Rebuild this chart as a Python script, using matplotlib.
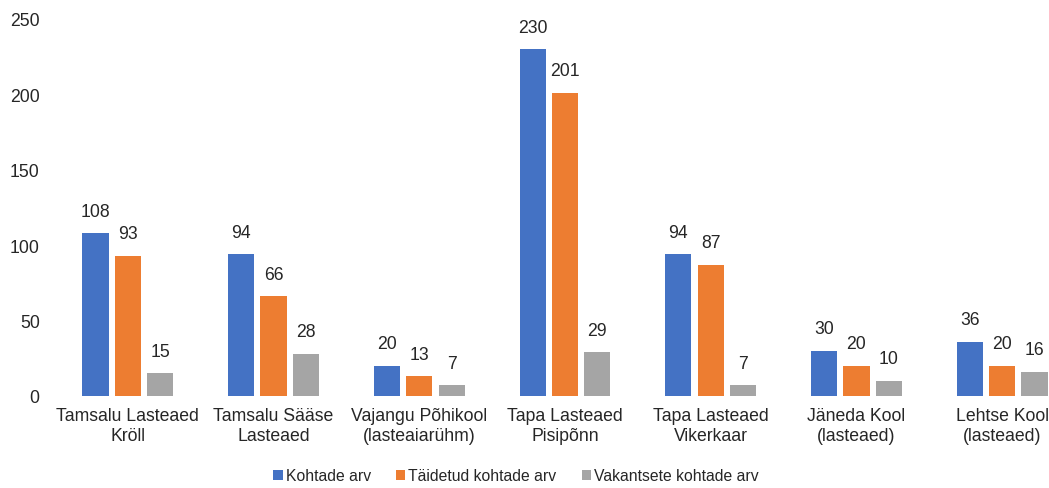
import numpy as np
import matplotlib.pyplot as plt

plt.rcParams['font.family'] = ['Liberation Sans', 'DejaVu Sans']

categories = ['Tamsalu Lasteaed\nKröll', 'Tamsalu Sääse\nLasteaed', 'Vajangu Põhikool\n(lasteaiarühm)',
              'Tapa Lasteaed\nPisipõnn', 'Tapa Lasteaed\nVikerkaar', 'Jäneda Kool\n(lasteaed)',
              'Lehtse Kool\n(lasteaed)']
kohtade = [108, 94, 20, 230, 94, 30, 36]
taidetud = [93, 66, 13, 201, 87, 20, 20]
vakantsed = [15, 28, 7, 29, 7, 10, 16]

series = [('Kohtade arv', kohtade, '#4472C4'),
          ('Täidetud kohtade arv', taidetud, '#ED7D31'),
          ('Vakantsete kohtade arv', vakantsed, '#A5A5A5')]

fig = plt.figure(figsize=(10.49, 4.89), dpi=100)
ax = fig.add_axes([55 / 1049, 92 / 489, 1020 / 1049, 377 / 489])

x = np.arange(len(categories))
width = 0.18
offsets = [-0.222, 0, 0.222]

for (name, vals, color), off in zip(series, offsets):
    bars = ax.bar(x + off, vals, width, color=color, label=name)
    for b, v in zip(bars, vals):
        ax.text(b.get_x() + b.get_width() / 2, v + 9, str(v),
                ha='center', va='bottom', fontsize=12.7, color='#262626')

ax.set_xlim(-0.5, len(categories) - 0.5)
ax.set_ylim(0, 250)
ax.set_yticks(range(0, 251, 50))
ax.set_xticks(x)
ax.set_xticklabels(categories, fontsize=12.7, color='#262626', linespacing=1.2)
ax.tick_params(axis='y', labelsize=12.7, labelcolor='#262626', length=0, pad=11)
ax.tick_params(axis='x', length=0, pad=8)
for s in ax.spines.values():
    s.set_visible(False)

fig.legend(loc='center', bbox_to_anchor=(516 / 1049, 1 - 477 / 489), ncol=3,
           frameon=False, fontsize=11.3, handlelength=0.6, handleheight=0.6,
           handletextpad=0.2, columnspacing=1.6, labelcolor='#262626')

fig.savefig('out.png', dpi=100)
